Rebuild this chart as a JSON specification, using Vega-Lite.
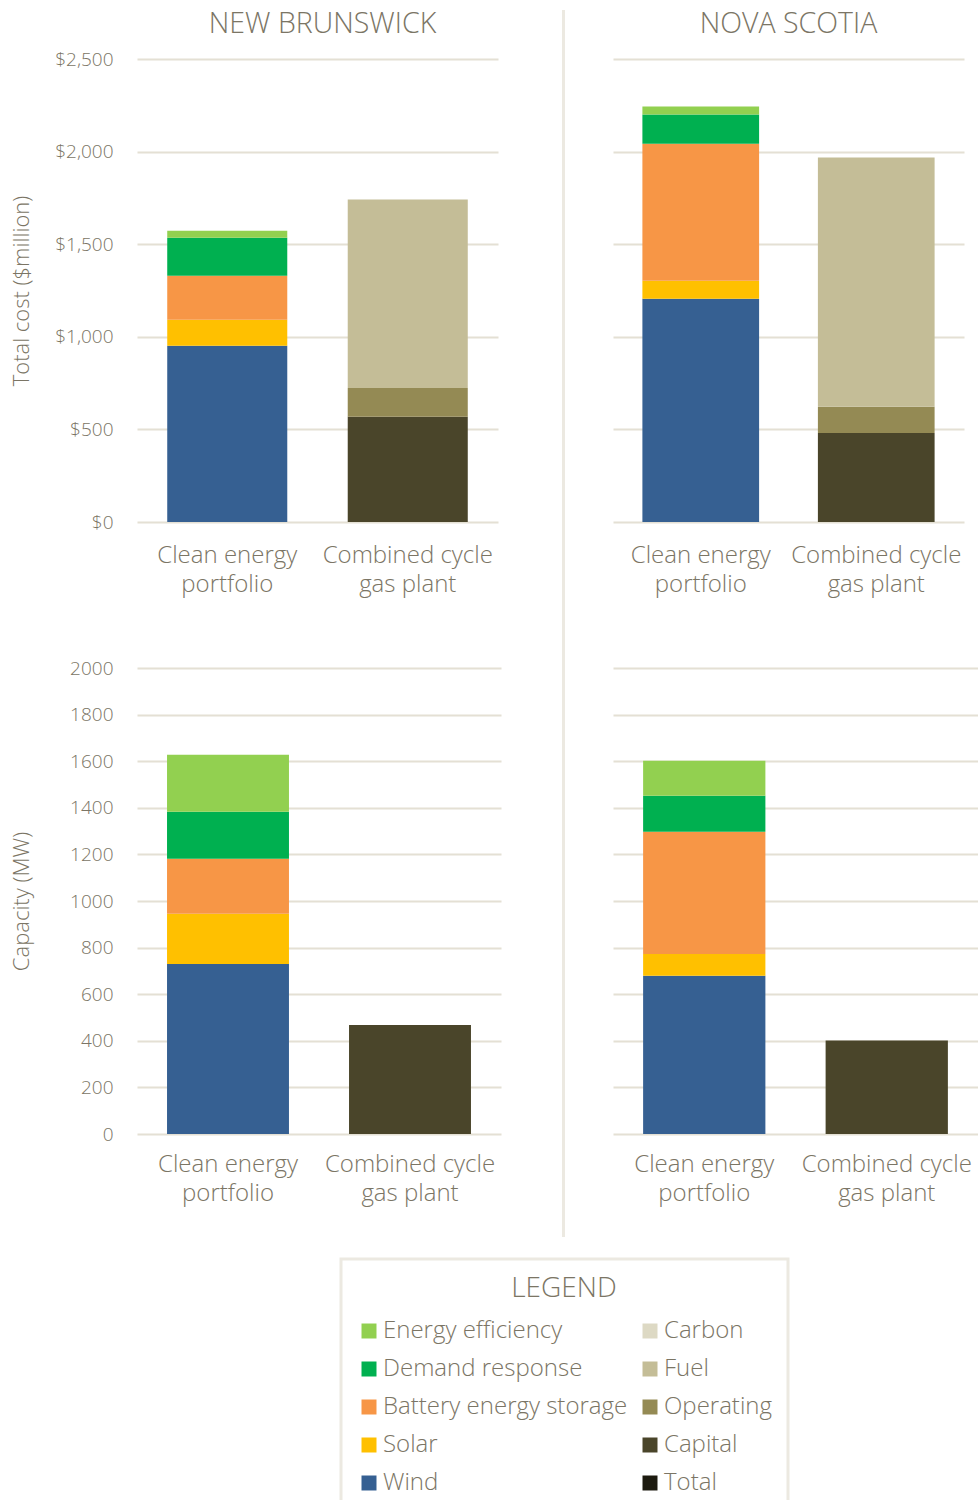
{
  "$schema": "https://vega.github.io/schema/vega-lite/v6.json",
  "background": "white",
  "padding": {"left": 10, "top": 10, "right": 0, "bottom": 0},
  "datasets": {
    "bars": [
      {"region": "NB", "metric": "cost", "option": "Clean energy portfolio", "component": "Wind", "rank": 1, "value": 951},
      {"region": "NB", "metric": "cost", "option": "Clean energy portfolio", "component": "Solar", "rank": 2, "value": 141},
      {"region": "NB", "metric": "cost", "option": "Clean energy portfolio", "component": "Battery energy storage", "rank": 3, "value": 238},
      {"region": "NB", "metric": "cost", "option": "Clean energy portfolio", "component": "Demand response", "rank": 4, "value": 205},
      {"region": "NB", "metric": "cost", "option": "Clean energy portfolio", "component": "Energy efficiency", "rank": 5, "value": 38},
      {"region": "NB", "metric": "cost", "option": "Combined cycle gas plant", "component": "Capital", "rank": 1, "value": 568},
      {"region": "NB", "metric": "cost", "option": "Combined cycle gas plant", "component": "Operating", "rank": 2, "value": 156},
      {"region": "NB", "metric": "cost", "option": "Combined cycle gas plant", "component": "Fuel", "rank": 3, "value": 1017},
      {"region": "NS", "metric": "cost", "option": "Clean energy portfolio", "component": "Wind", "rank": 1, "value": 1205},
      {"region": "NS", "metric": "cost", "option": "Clean energy portfolio", "component": "Solar", "rank": 2, "value": 98},
      {"region": "NS", "metric": "cost", "option": "Clean energy portfolio", "component": "Battery energy storage", "rank": 3, "value": 740},
      {"region": "NS", "metric": "cost", "option": "Clean energy portfolio", "component": "Demand response", "rank": 4, "value": 157},
      {"region": "NS", "metric": "cost", "option": "Clean energy portfolio", "component": "Energy efficiency", "rank": 5, "value": 43},
      {"region": "NS", "metric": "cost", "option": "Combined cycle gas plant", "component": "Capital", "rank": 1, "value": 481},
      {"region": "NS", "metric": "cost", "option": "Combined cycle gas plant", "component": "Operating", "rank": 2, "value": 141},
      {"region": "NS", "metric": "cost", "option": "Combined cycle gas plant", "component": "Fuel", "rank": 3, "value": 1346},
      {"region": "NB", "metric": "cap", "option": "Clean energy portfolio", "component": "Wind", "rank": 1, "value": 730},
      {"region": "NB", "metric": "cap", "option": "Clean energy portfolio", "component": "Solar", "rank": 2, "value": 215},
      {"region": "NB", "metric": "cap", "option": "Clean energy portfolio", "component": "Battery energy storage", "rank": 3, "value": 236},
      {"region": "NB", "metric": "cap", "option": "Clean energy portfolio", "component": "Demand response", "rank": 4, "value": 202},
      {"region": "NB", "metric": "cap", "option": "Clean energy portfolio", "component": "Energy efficiency", "rank": 5, "value": 245},
      {"region": "NB", "metric": "cap", "option": "Combined cycle gas plant", "component": "Capital", "rank": 1, "value": 468},
      {"region": "NS", "metric": "cap", "option": "Clean energy portfolio", "component": "Wind", "rank": 1, "value": 679},
      {"region": "NS", "metric": "cap", "option": "Clean energy portfolio", "component": "Solar", "rank": 2, "value": 94},
      {"region": "NS", "metric": "cap", "option": "Clean energy portfolio", "component": "Battery energy storage", "rank": 3, "value": 524},
      {"region": "NS", "metric": "cap", "option": "Clean energy portfolio", "component": "Demand response", "rank": 4, "value": 155},
      {"region": "NS", "metric": "cap", "option": "Clean energy portfolio", "component": "Energy efficiency", "rank": 5, "value": 150},
      {"region": "NS", "metric": "cap", "option": "Combined cycle gas plant", "component": "Capital", "rank": 1, "value": 401}
    ],
    "titles": [
      {"region": "NB", "name": "NEW BRUNSWICK"},
      {"region": "NS", "name": "NOVA SCOTIA"}
    ],
    "empty": []
  },
  "bounds": "flush",
  "spacing": 425,
  "hconcat": [
    {
      "bounds": "flush",
      "spacing": 21,
      "vconcat": [
        {
          "width": 361, "height": 28,
          "data": {"name": "titles"},
          "transform": [{"filter": "datum.region == 'NB'"}],
          "mark": {"type": "text", "font": "Open Sans", "fontSize": 28.5, "fontWeight": 300, "color": "#7b7565", "baseline": "middle", "dx": 5},
          "encoding": {"text": {"field": "name", "type": "nominal"}}
        },
        {
          "bounds": "flush",
          "spacing": 146,
          "vconcat": [
            {
              "width": 361, "height": 463,
              "data": {"name": "bars"},
              "transform": [{"filter": "datum.region == 'NB' && datum.metric == 'cost'"}],
              "mark": "bar",
              "encoding": {
                "x": {"field": "option", "type": "nominal", "sort": ["Clean energy portfolio", "Combined cycle gas plant"], "scale": {"paddingInner": 0.335, "paddingOuter": 0.1675}, "axis": {"labelPadding": 21}},
                "y": {"field": "value", "type": "quantitative", "stack": "zero", "scale": {"domain": [0, 2500]},
                      "axis": {"title": "Total cost ($million)", "values": [0, 500, 1000, 1500, 2000, 2500], "format": "$,.0f", "titleX": -104, "titleY": 231.5}},
                "color": {"field": "component", "type": "nominal"},
                "order": {"field": "rank", "type": "quantitative"}
              }
            },
            {
              "width": 364, "height": 466,
              "data": {"name": "bars"},
              "transform": [{"filter": "datum.region == 'NB' && datum.metric == 'cap'"}],
              "mark": "bar",
              "encoding": {
                "x": {"field": "option", "type": "nominal", "sort": ["Clean energy portfolio", "Combined cycle gas plant"], "scale": {"paddingInner": 0.33, "paddingOuter": 0.165}, "axis": {"labelPadding": 18}},
                "y": {"field": "value", "type": "quantitative", "stack": "zero", "scale": {"domain": [0, 2000]},
                      "axis": {"title": "Capacity (MW)", "values": [0, 200, 400, 600, 800, 1000, 1200, 1400, 1600, 1800, 2000], "format": "d", "titleX": -104, "titleY": 233}},
                "color": {"field": "component", "type": "nominal"},
                "order": {"field": "rank", "type": "quantitative"}
              }
            }
          ]
        }
      ]
    },
    {
      "bounds": "flush",
      "spacing": 48,
      "hconcat": [
        {
          "width": 3, "height": 1227,
          "view": {"fill": "#ece9e1", "stroke": null},
          "data": {"name": "empty"},
          "mark": "point"
        },
        {
          "bounds": "flush",
          "spacing": 21,
          "vconcat": [
            {
              "width": 351, "height": 28,
              "data": {"name": "titles"},
              "transform": [{"filter": "datum.region == 'NS'"}],
              "mark": {"type": "text", "font": "Open Sans", "fontSize": 28.5, "fontWeight": 300, "color": "#7b7565", "baseline": "middle"},
              "encoding": {"text": {"field": "name", "type": "nominal"}}
            },
            {
              "bounds": "flush",
              "spacing": 146,
              "vconcat": [
                {
                  "width": 351, "height": 463,
                  "data": {"name": "bars"},
                  "transform": [{"filter": "datum.region == 'NS' && datum.metric == 'cost'"}],
                  "mark": "bar",
                  "encoding": {
                    "x": {"field": "option", "type": "nominal", "sort": ["Clean energy portfolio", "Combined cycle gas plant"], "scale": {"paddingInner": 0.335, "paddingOuter": 0.1675}, "axis": {"labelPadding": 21}},
                    "y": {"field": "value", "type": "quantitative", "stack": "zero", "scale": {"domain": [0, 2500]},
                          "axis": {"title": null, "labels": false, "values": [0, 500, 1000, 1500, 2000, 2500]}},
                    "color": {"field": "component", "type": "nominal"},
                    "order": {"field": "rank", "type": "quantitative"}
                  }
                },
                {
                  "width": 365, "height": 466,
                  "data": {"name": "bars"},
                  "transform": [{"filter": "datum.region == 'NS' && datum.metric == 'cap'"}],
                  "mark": "bar",
                  "encoding": {
                    "x": {"field": "option", "type": "nominal", "sort": ["Clean energy portfolio", "Combined cycle gas plant"], "scale": {"paddingInner": 0.33, "paddingOuter": 0.165}, "axis": {"labelPadding": 18}},
                    "y": {"field": "value", "type": "quantitative", "stack": "zero", "scale": {"domain": [0, 2000]},
                          "axis": {"title": null, "labels": false, "values": [0, 200, 400, 600, 800, 1000, 1200, 1400, 1600, 1800, 2000]}},
                    "color": {"field": "component", "type": "nominal",
                      "scale": {
                        "domain": ["Energy efficiency", "Demand response", "Battery energy storage", "Solar", "Wind", "Carbon", "Fuel", "Operating", "Capital", "Total"],
                        "range": ["#92d050", "#00b050", "#f79646", "#ffc000", "#366092", "#ddd9c4", "#c4bd97", "#948a54", "#4a452a", "#1d1b10"]
                      },
                      "legend": {"title": "LEGEND", "orient": "none", "legendX": 204, "legendY": 1249, "columns": 2}
                    },
                    "order": {"field": "rank", "type": "quantitative"}
                  }
                }
              ]
            }
          ]
        }
      ]
    }
  ],
  "config": {
    "view": {"stroke": null},
    "font": "Open Sans",
    "axisY": {
      "grid": true, "gridColor": "#e4e0d4", "gridWidth": 2, "domain": false, "ticks": false,
      "labelFont": "Open Sans", "labelFontSize": 19, "labelFontWeight": 300, "labelColor": "#7b7565", "labelPadding": 24,
      "titleFont": "Open Sans", "titleFontSize": 22, "titleFontWeight": 300, "titleColor": "#7b7565", "titleBaseline": "bottom"
    },
    "axisX": {
      "title": null, "domain": false, "ticks": false, "grid": false,
      "labelAngle": 0, "labelFont": "Open Sans", "labelFontSize": 24, "labelFontWeight": 300, "labelColor": "#7b7565",
      "labelLineHeight": 29, "labelPadding": 12, "labelOverlap": false, "labelBound": false,
      "labelExpr": "datum.value == 'Clean energy portfolio' ? ['Clean energy', 'portfolio'] : ['Combined cycle', 'gas plant']"
    },
    "legend": {
      "titleFont": "Open Sans", "titleFontSize": 28, "titleFontWeight": 300, "titleColor": "#7b7565", "titleAnchor": "middle", "titlePadding": 16,
      "labelFont": "Open Sans", "labelFontSize": 24, "labelFontWeight": 300, "labelColor": "#7b7565", "labelOffset": 2, "labelLimit": 400,
      "symbolType": "square", "symbolSize": 225, "symbolStrokeWidth": 0, "symbolOpacity": 1,
      "rowPadding": 14, "columnPadding": 10, "padding": 16,
      "strokeColor": "#ece9e1", "strokeWidth": 3
    }
  }
}
